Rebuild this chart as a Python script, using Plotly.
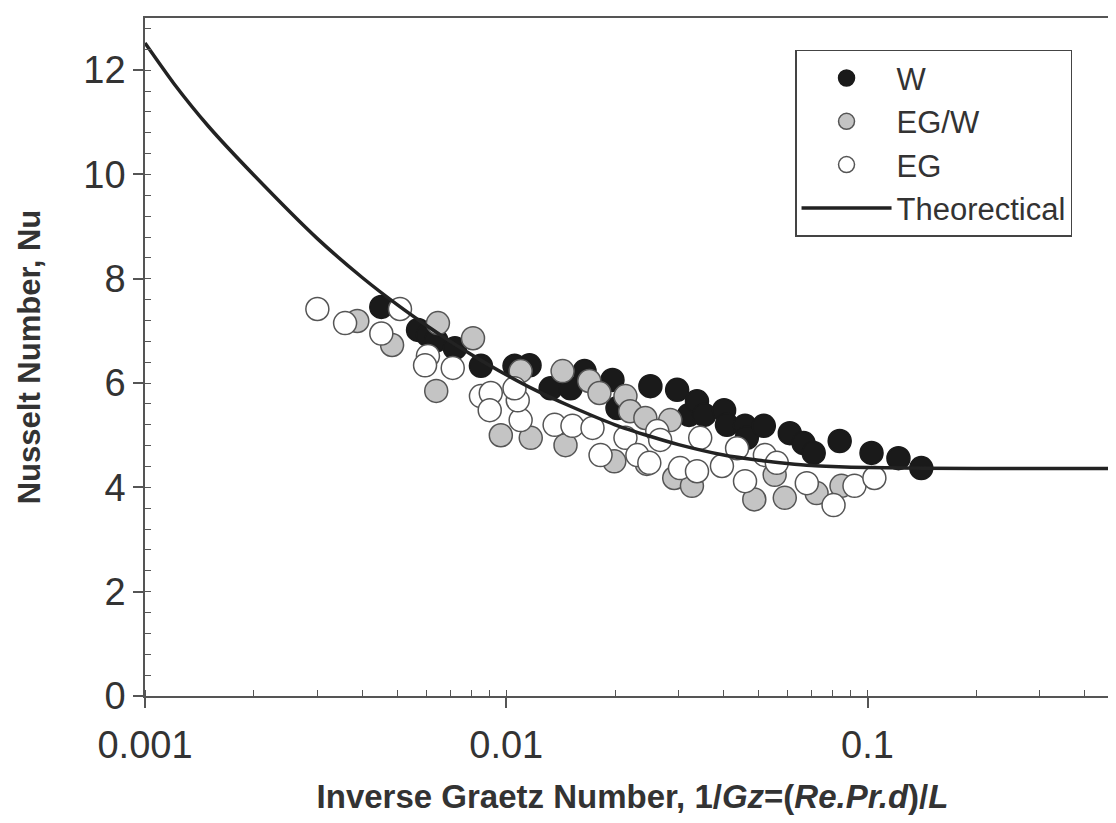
import plotly.graph_objects as go

# Water (W)
w_x = [0.00451, 0.0057, 0.00607, 0.0064, 0.00721, 0.00851, 0.01054, 0.0116, 0.01327, 0.01507,
       0.01647, 0.01968, 0.02032, 0.02506, 0.02972, 0.03206, 0.03373, 0.03532, 0.04009, 0.04083,
       0.04581, 0.04634, 0.05164, 0.06095, 0.06653, 0.07096, 0.08375, 0.1026, 0.1218, 0.1409]
w_y = [7.46, 7.02, 6.92, 6.82, 6.67, 6.33, 6.33, 6.34, 5.90, 5.90,
       6.23, 6.06, 5.52, 5.94, 5.87, 5.39, 5.65, 5.39, 5.48, 5.20,
       5.18, 4.95, 5.18, 5.04, 4.85, 4.66, 4.89, 4.66, 4.56, 4.37]

# Ethylene glycol / water (EG/W)
egw_x = [0.00387, 0.00483, 0.00647, 0.0064, 0.00809, 0.00966, 0.01096, 0.01169, 0.01432, 0.01698,
         0.01811, 0.01459, 0.01991, 0.02138, 0.02203, 0.02427, 0.02844, 0.0245, 0.02917, 0.03266,
         0.0486, 0.05534, 0.05902, 0.07228, 0.08472]
egw_y = [7.19, 6.73, 7.15, 5.85, 6.86, 5.00, 6.23, 4.95, 6.23, 6.04,
         5.81, 4.81, 4.50, 5.75, 5.46, 5.33, 5.29, 4.45, 4.18, 4.03,
         3.77, 4.24, 3.80, 3.89, 4.03]

# Ethylene glycol (EG)
eg_x = [0.0030, 0.00358, 0.00508, 0.00451, 0.00607, 0.00596, 0.00711, 0.00851, 0.00906, 0.00900,
        0.01096, 0.01076, 0.01054, 0.01361, 0.01525, 0.01733, 0.01824, 0.02138, 0.02307, 0.02489,
        0.02618, 0.02667, 0.03027, 0.03373, 0.03443, 0.03954, 0.04355, 0.04581, 0.052, 0.0561,
        0.06792, 0.08054, 0.09204, 0.1045]
eg_y = [7.42, 7.15, 7.42, 6.95, 6.52, 6.34, 6.29, 5.75, 5.81, 5.48,
        5.29, 5.67, 5.90, 5.20, 5.18, 5.14, 4.62, 4.95, 4.62, 4.47,
        5.08, 4.91, 4.37, 4.31, 4.95, 4.41, 4.75, 4.12, 4.62, 4.47,
        4.08, 3.66, 4.03, 4.18]

# Theoretical curve
th_x = [0.001, 0.0012, 0.0015, 0.002, 0.003, 0.004, 0.005, 0.006, 0.007, 0.008,
        0.01, 0.012, 0.015, 0.02, 0.025, 0.03, 0.04, 0.05, 0.06, 0.07,
        0.08, 0.1, 0.2, 0.5]
th_y = [12.52, 11.75, 10.92, 9.99, 8.77, 8.02, 7.50, 7.11, 6.80, 6.55,
        6.16, 5.87, 5.56, 5.20, 4.98, 4.82, 4.62, 4.52, 4.46, 4.42,
        4.40, 4.38, 4.36, 4.36]

x_ticks = [0.001, 0.01, 0.1]
x_ticklabels = ["0.001", "0.01", "0.1"]
y_ticks = [0, 2, 4, 6, 8, 10, 12]

FONT = "Liberation Sans, Arial, sans-serif"
TXT = "#333333"
edge = "#555555"
msize = 23

fig = go.Figure()
fig.add_trace(go.Scatter(x=w_x, y=w_y, mode="markers", name="W",
                         marker=dict(size=msize, color="#1a1a1a", line=dict(color="#1a1a1a", width=1.5))))
fig.add_trace(go.Scatter(x=egw_x, y=egw_y, mode="markers", name="EG/W",
                         marker=dict(size=msize, color="#c4c4c4", line=dict(color=edge, width=1.5))))
fig.add_trace(go.Scatter(x=eg_x, y=eg_y, mode="markers", name="EG",
                         marker=dict(size=msize, color="#ffffff", line=dict(color=edge, width=1.5))))
fig.add_trace(go.Scatter(x=th_x, y=th_y, mode="lines", name="Theorectical",
                         line=dict(color="#222222", width=3.5, shape="spline", smoothing=0.6)))

fig.update_layout(
    width=1116, height=823,
    margin=dict(l=137, r=4, t=10, b=135, autoexpand=False),
    paper_bgcolor="white", plot_bgcolor="white",
    font=dict(family=FONT, size=38, color=TXT),
    showlegend=True,
    legend=dict(x=0.6667, y=0.953, xanchor="left", yanchor="top",
                bordercolor="#444444", borderwidth=1.5, bgcolor="white",
                font=dict(size=31, color=TXT), itemwidth=90,
                tracegroupgap=0),
    xaxis=dict(type="log", range=[-3, -0.30103], automargin=False,
               tickvals=x_ticks, ticktext=x_ticklabels,
               ticks="outside", ticklen=10, tickwidth=1.5, tickcolor=edge,
               ticklabelstandoff=5,
               showline=True, linecolor=edge, linewidth=1.5, mirror=True,
               showgrid=False, zeroline=False,
               minor=dict(ticks="inside", ticklen=6, tickwidth=1.2, tickcolor=edge,
                          dtick="D1", showgrid=False),
               title=dict(text="<b>Inverse Graetz Number, 1/<i>Gz</i>=(<i>Re.Pr.d</i>)/<i>L</i></b>",
                          font=dict(size=33, color=TXT), standoff=20)),
    yaxis=dict(range=[0, 13], tickvals=y_ticks, automargin=False,
               ticks="outside", ticklen=10, tickwidth=1.5, tickcolor=edge,
               showline=True, linecolor=edge, linewidth=1.5, mirror=True,
               showgrid=False, zeroline=False,
               minor=dict(ticks="inside", ticklen=6, tickwidth=1.2, tickcolor=edge,
                          dtick=0.4, showgrid=False),
               title=dict(text="<b>Nusselt Number, Nu</b>",
                          font=dict(size=31, color=TXT), standoff=34)),
)

fig.write_html("out.html")
